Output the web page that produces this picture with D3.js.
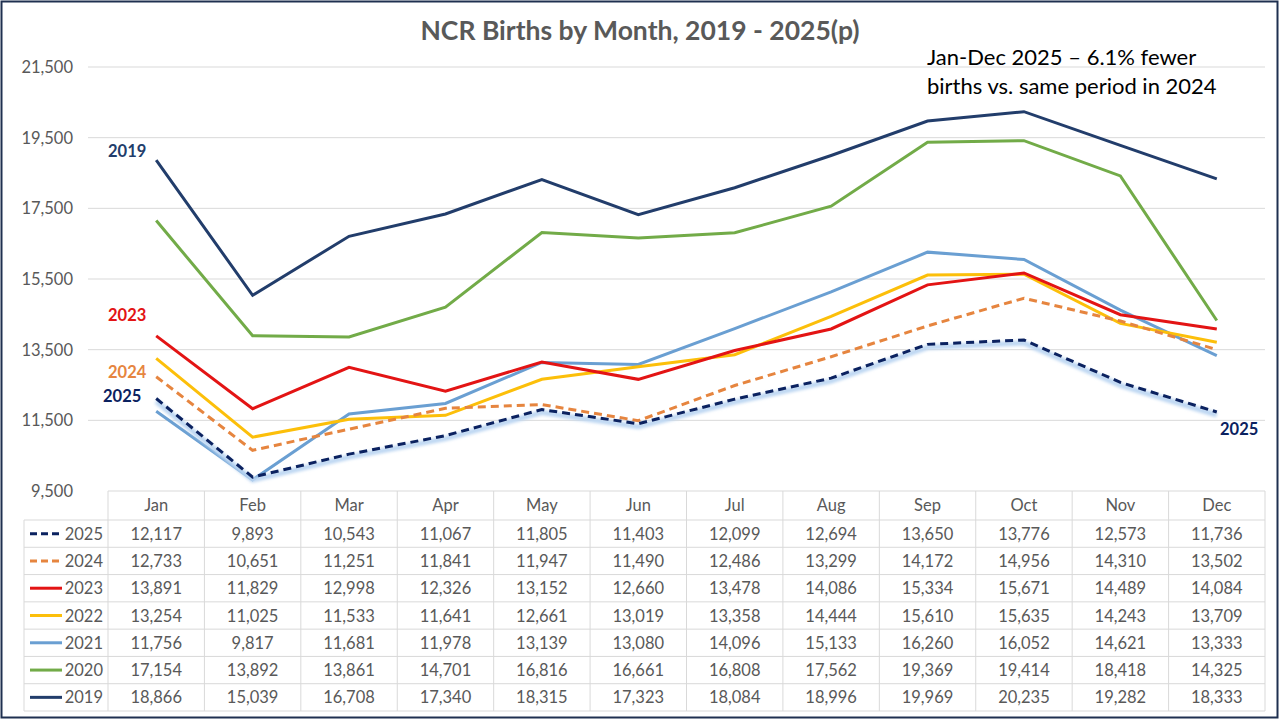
<!DOCTYPE html>
<html><head><meta charset="utf-8">
<script src="https://cdn.jsdelivr.net/npm/d3@7"></script>
<style>body{margin:0;background:#fff}svg{display:block}text{font-family:Lato,"Open Sans",sans-serif}</style>
</head><body><svg id="c" width="1280" height="720"></svg>
<script>
const months = ["Jan","Feb","Mar","Apr","May","Jun","Jul","Aug","Sep","Oct","Nov","Dec"];
const years = ["2025","2024","2023","2022","2021","2020","2019"];
const v2025 = [12117,9893,10543,11067,11805,11403,12099,12694,13650,13776,12573,11736];
const v2024 = [12733,10651,11251,11841,11947,11490,12486,13299,14172,14956,14310,13502];
const v2023 = [13891,11829,12998,12326,13152,12660,13478,14086,15334,15671,14489,14084];
const v2022 = [13254,11025,11533,11641,12661,13019,13358,14444,15610,15635,14243,13709];
const v2021 = [11756,9817,11681,11978,13139,13080,14096,15133,16260,16052,14621,13333];
const v2020 = [17154,13892,13861,14701,16816,16661,16808,17562,19369,19414,18418,14325];
const v2019 = [18866,15039,16708,17340,18315,17323,18084,18996,19969,20235,19282,18333];
const yTicks = [9500,11500,13500,15500,17500,19500,21500];
const colors = {"2025":"#0b2260","2024":"#e6853f","2023":"#e31414","2022":"#fcbf0a","2021":"#6a9fd2","2020":"#72ab48","2019":"#223d6b"};
const dashed = {"2025":true,"2024":true};
const values = {"2025":v2025,"2024":v2024,"2023":v2023,"2022":v2022,"2021":v2021,"2020":v2020,"2019":v2019};

const svg = d3.select("#c");
const L = 108, R = 1265, T = 67, B = 491;
const x = d3.scaleBand().domain(months).range([L,R]);
const y = d3.scaleLinear().domain([9500,21500]).range([B,T]);
const fmt = d3.format(",");
const grey = "#595959", gridC = "#d9d9d9";

svg.append("rect").attr("x",1.5).attr("y",1.5).attr("width",1276).attr("height",716)
  .attr("fill","#fff").attr("stroke","#1f3050").attr("stroke-width",2);

const defs = svg.append("defs");
defs.append("filter").attr("id","glow").attr("x","-5%").attr("y","-20%").attr("width","110%").attr("height","140%")
  .append("feGaussianBlur").attr("stdDeviation",1.8);

// grid
svg.append("g").selectAll("line").data(yTicks.filter(d=>d>9500)).join("line")
  .attr("x1",88).attr("x2",R).attr("y1",d=>y(d)).attr("y2",d=>y(d))
  .attr("stroke",gridC).attr("stroke-width",1);
svg.append("g").selectAll("text").data(yTicks).join("text")
  .attr("x",73).attr("y",d=>y(d)+6).attr("text-anchor","end")
  .attr("font-size",16.5).attr("fill",grey).text(d=>fmt(d));

// title
svg.append("text").attr("x",640).attr("y",40).attr("text-anchor","middle")
  .attr("font-size",26.5).attr("font-weight","bold").attr("fill",grey)
  .text("NCR Births by Month, 2019 - 2025(p)");
const ann = svg.append("text").attr("font-size",22).attr("fill","#000");
ann.append("tspan").attr("x",927).attr("y",65).text("Jan-Dec 2025 \u2013 6.1% fewer");
ann.append("tspan").attr("x",927).attr("y",94).text("births vs. same period in 2024");

// lines
const line = d3.line().x((d,i)=>x(months[i])+x.bandwidth()/2).y(d=>y(d));
const drawOrder = ["2019","2020","2021","2022","2023","2024","2025"];
drawOrder.forEach(yr=>{
  if(yr==="2025"){
    svg.append("path").attr("d",line(values[yr])).attr("fill","none")
      .attr("stroke","#bcd6f2").attr("stroke-width",5).attr("transform","translate(0,3)")
      .attr("filter","url(#glow)");
  }
  svg.append("path").attr("d",line(values[yr])).attr("fill","none")
    .attr("stroke",colors[yr]).attr("stroke-width",3)
    .attr("stroke-dasharray",dashed[yr]?"8,5":null);
});

// series labels
const labs = [["2019",108,157],["2023",108,321],["2024",108,378],["2025",103,402],["2025",1220,435]];
svg.append("g").selectAll("text").data(labs).join("text")
  .attr("x",d=>d[1]).attr("y",d=>d[2]).attr("font-size",16.5).attr("font-weight","bold")
  .attr("fill",d=>colors[d[0]]).text(d=>d[0]);

// data table
const hdrB = 520, rowH = (711-520)/7, LX = 24;
const tg = svg.append("g");
tg.append("line").attr("x1",L).attr("x2",R).attr("y1",B).attr("y2",B).attr("stroke",gridC);
for(let i=0;i<=7;i++){
  tg.append("line").attr("x1",LX).attr("x2",R).attr("y1",hdrB+i*rowH).attr("y2",hdrB+i*rowH).attr("stroke",gridC);
}
tg.append("line").attr("x1",LX).attr("x2",LX).attr("y1",hdrB).attr("y2",711).attr("stroke",gridC);
tg.selectAll("line.v").data(months.concat(["end"])).join("line").attr("class","v")
  .attr("x1",(d,i)=>L+i*x.bandwidth()).attr("x2",(d,i)=>L+i*x.bandwidth())
  .attr("y1",B).attr("y2",711).attr("stroke",gridC);
tg.selectAll("text.m").data(months).join("text").attr("class","m")
  .attr("x",d=>x(d)+x.bandwidth()/2).attr("y",B+20).attr("text-anchor","middle")
  .attr("font-size",16.5).attr("fill",grey).text(d=>d);
years.forEach((yr,r)=>{
  const cy = hdrB + r*rowH + rowH/2;
  tg.append("line").attr("x1",30).attr("x2",62).attr("y1",cy).attr("y2",cy)
    .attr("stroke",colors[yr]).attr("stroke-width",3)
    .attr("stroke-dasharray",dashed[yr]?"7,4":null);
  tg.append("text").attr("x",103).attr("y",cy+6).attr("text-anchor","end")
    .attr("font-size",16.5).attr("fill",grey).text(yr);
  tg.selectAll(null).data(values[yr]).join("text")
    .attr("x",(d,i)=>x(months[i])+x.bandwidth()/2).attr("y",cy+6).attr("text-anchor","middle")
    .attr("font-size",16.5).attr("fill",grey).text(d=>fmt(d));
});
</script></body></html>
